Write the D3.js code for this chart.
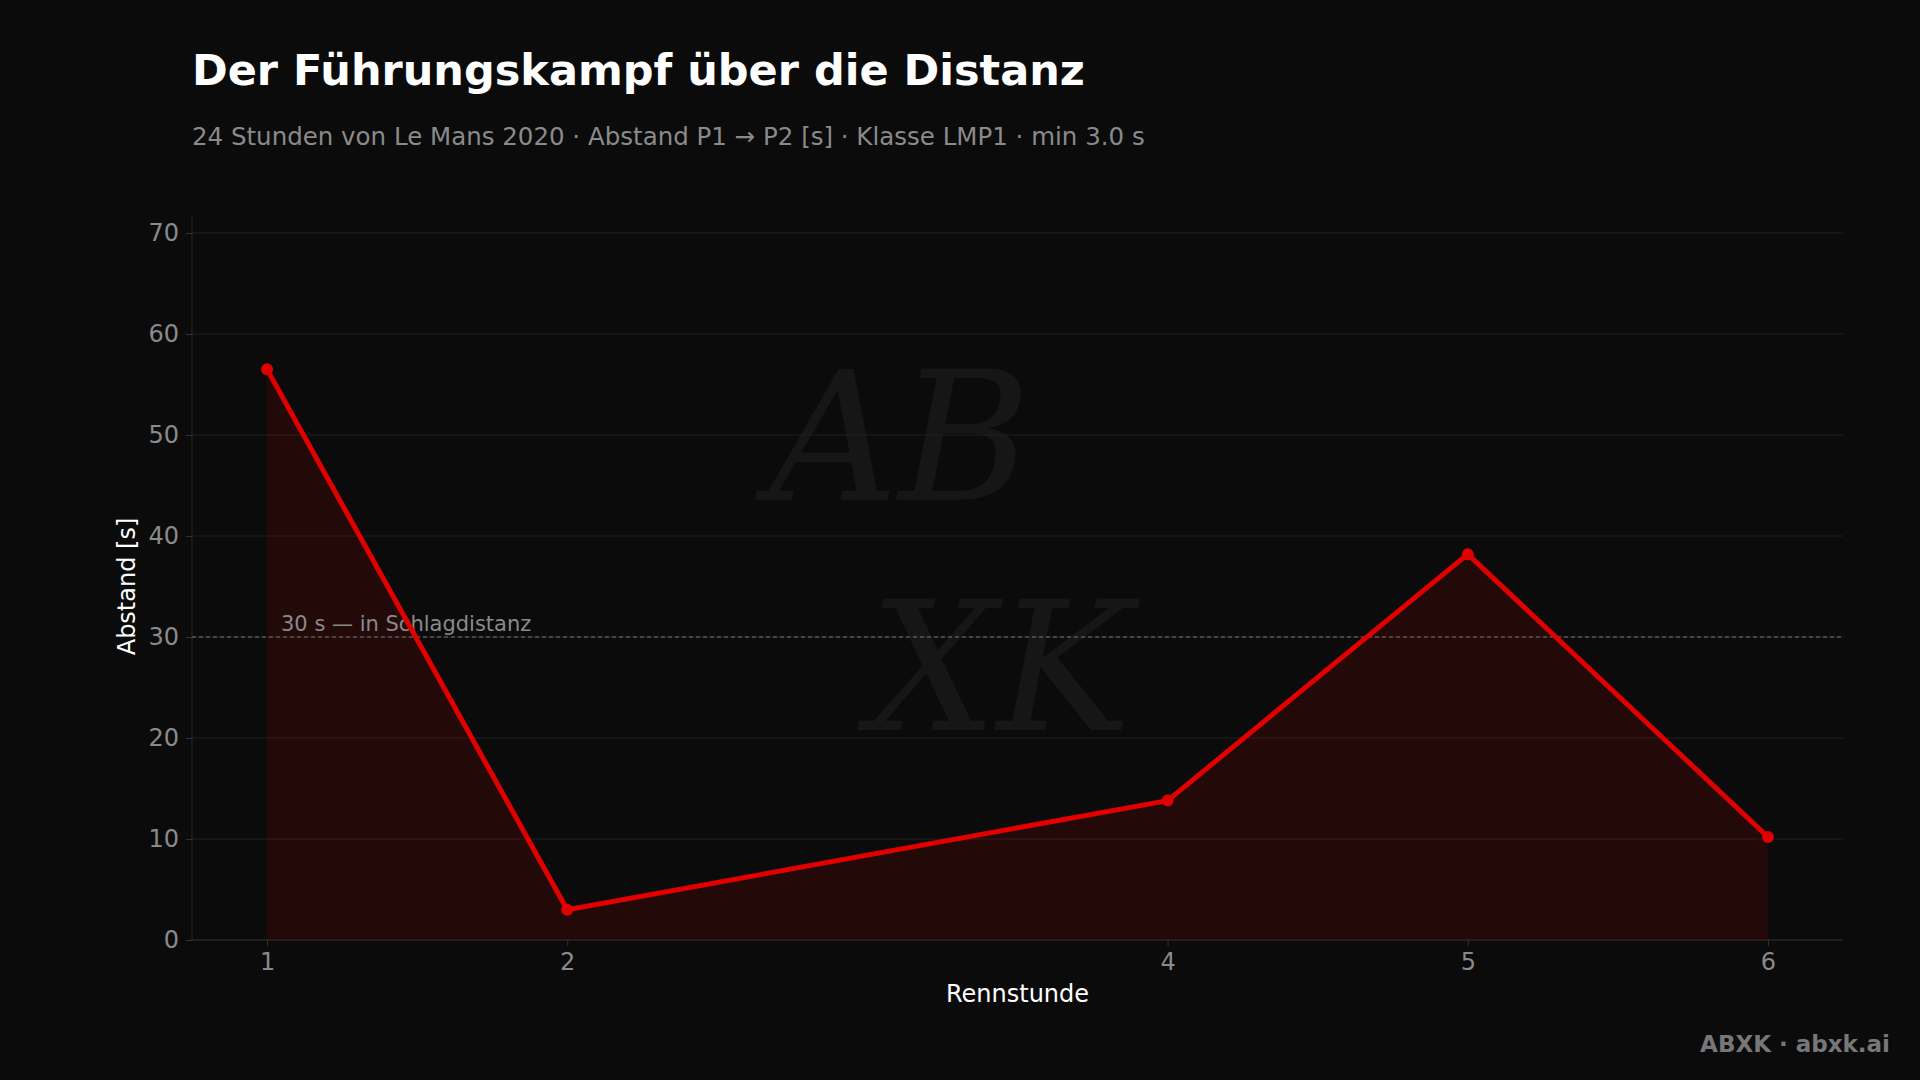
<!DOCTYPE html>
<html><head><meta charset="utf-8">
<script src="https://cdn.jsdelivr.net/npm/d3@7"></script>
<style>body{margin:0;background:#0b0b0b;}svg{display:block;font-family:"DejaVu Sans",sans-serif;}</style>
</head><body><svg id="c" width="1920" height="1080"></svg>
<script>
const hours = [1, 2, 4, 5, 6];
const gaps = [56.5, 3.0, 13.8, 38.2, 10.2];
const yTicks = [0, 10, 20, 30, 40, 50, 60, 70];
const refLine = 30;
const refLabel = "30 s — in Schlagdistanz";

const svg = d3.select("#c");
svg.append("rect").attr("width",1920).attr("height",1080).attr("fill","#0b0b0b");
const L=192,R=1843,T=215,B=940;
const x = d3.scaleLinear().domain([0.75,6.25]).range([L,R]);
const y = d3.scaleLinear().domain([0,70]).range([B,233]);

svg.append("text").attr("x",192).attr("y",85).attr("fill","#fff").attr("font-size",43).attr("font-weight","bold").text("Der Führungskampf über die Distanz");
svg.append("text").attr("x",192).attr("y",145).attr("fill","#8a8a8a").attr("font-size",24.5).text("24 Stunden von Le Mans 2020 · Abstand P1 → P2 [s] · Klasse LMP1 · min 3.0 s");

// watermark
const wm = svg.append("g").attr("fill","#161616").attr("font-family","DejaVu Serif").attr("font-style","italic");
wm.append("text").attr("x",900).attr("y",500).attr("text-anchor","middle").attr("font-size",180).text("AB");
wm.append("text").attr("x",1000).attr("y",730).attr("text-anchor","middle").attr("font-size",180).text("XK");

// grid
svg.append("g").selectAll("line").data(yTicks).join("line")
  .attr("x1",L).attr("x2",R).attr("y1",d=>y(d)).attr("y2",d=>y(d)).attr("stroke","#202020").attr("stroke-width",1);

// axes
const ya = svg.append("g").attr("transform",`translate(${L},0)`).call(d3.axisLeft(y).tickValues(yTicks).tickSize(6).tickPadding(7));
const xa = svg.append("g").attr("transform",`translate(0,${B})`).call(d3.axisBottom(x).tickValues(hours).tickFormat(d3.format("d")).tickSize(6).tickPadding(7));
[ya,xa].forEach(a=>{a.selectAll("text").attr("fill","#8a8a8a").attr("font-size",24).attr("font-family","DejaVu Sans");a.selectAll("line").attr("stroke","#333");});
ya.select(".domain").attr("stroke","#2a2a2a").attr("d",`M0,${T}V${B}`);
xa.select(".domain").attr("stroke","#2a2a2a").attr("d",`M${L},0H${R}`);

svg.append("text").attr("transform",`translate(135,${y(35)}) rotate(-90)`).attr("text-anchor","middle").attr("fill","#fff").attr("font-size",24).text("Abstand [s]");
svg.append("text").attr("x",(L+R)/2).attr("y",1002).attr("text-anchor","middle").attr("fill","#fff").attr("font-size",24).text("Rennstunde");

const data = hours.map((h,i)=>({h,v:gaps[i]}));
svg.append("path").datum(data).attr("fill","#c00000").attr("fill-opacity",0.14)
  .attr("d",d3.area().x(d=>x(d.h)).y0(y(0)).y1(d=>y(d.v)));

svg.append("line").attr("x1",L).attr("x2",R).attr("y1",y(refLine)).attr("y2",y(refLine)).attr("stroke","#777").attr("stroke-dasharray","4,3").attr("stroke-width",1.2);
svg.append("text").attr("x",281).attr("y",y(refLine)-6).attr("fill","#8a8a8a").attr("font-size",21).text(refLabel);

svg.append("path").datum(data).attr("fill","none").attr("stroke","#e00000").attr("stroke-width",5).attr("stroke-linejoin","round")
  .attr("d",d3.line().x(d=>x(d.h)).y(d=>y(d.v)));
svg.append("g").selectAll("circle").data(data).join("circle").attr("cx",d=>x(d.h)).attr("cy",d=>y(d.v)).attr("r",6).attr("fill","#e00000");

svg.append("text").attr("x",1890).attr("y",1052).attr("text-anchor","end").attr("fill","#777").attr("font-size",23).attr("font-weight","bold").text("ABXK · abxk.ai");
</script></body></html>
